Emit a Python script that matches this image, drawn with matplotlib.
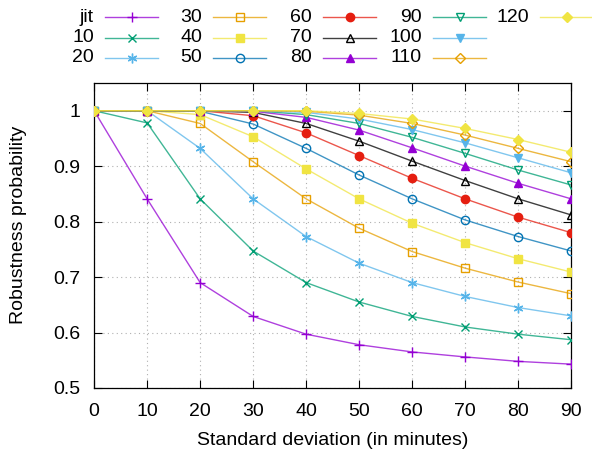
import numpy as np
import matplotlib
matplotlib.use("Agg")
import matplotlib.pyplot as plt
from matplotlib.lines import Line2D

plt.rcParams['font.family'] = ['Liberation Sans', 'DejaVu Sans']
plt.rcParams['font.size'] = 14

# standard deviation (minutes)
std = [0, 10, 20, 30, 40, 50, 60, 70, 80, 90]

labels = ["jit", "10", "20", "30", "40", "50", "60", "70", "80", "90", "100", "110", "120"]

p_jit = [1.0, 0.841, 0.690, 0.629, 0.597, 0.578, 0.565, 0.556, 0.548, 0.543]
p_10 = [1.0, 0.978, 0.841, 0.747, 0.690, 0.655, 0.629, 0.610, 0.597, 0.587]
p_20 = [1.0, 1.0, 0.932, 0.841, 0.773, 0.725, 0.690, 0.665, 0.645, 0.630]
p_30 = [1.0, 1.0, 0.977, 0.908, 0.841, 0.788, 0.746, 0.716, 0.691, 0.670]
p_40 = [1.0, 1.0, 0.993, 0.953, 0.895, 0.841, 0.797, 0.762, 0.733, 0.709]
p_50 = [1.0, 1.0, 0.999, 0.976, 0.932, 0.884, 0.841, 0.803, 0.773, 0.747]
p_60 = [1.0, 1.0, 1.0, 0.991, 0.960, 0.919, 0.878, 0.841, 0.808, 0.780]
p_70 = [1.0, 1.0, 1.0, 0.997, 0.977, 0.945, 0.909, 0.874, 0.841, 0.812]
p_80 = [1.0, 1.0, 1.0, 0.999, 0.988, 0.965, 0.933, 0.900, 0.869, 0.841]
p_90 = [1.0, 1.0, 1.0, 1.0, 0.993, 0.977, 0.952, 0.923, 0.893, 0.866]
p_100 = [1.0, 1.0, 1.0, 1.0, 0.997, 0.985, 0.966, 0.942, 0.915, 0.888]
p_110 = [1.0, 1.0, 1.0, 1.0, 0.999, 0.992, 0.977, 0.956, 0.932, 0.908]
p_120 = [1.0, 1.0, 1.0, 1.0, 1.0, 0.995, 0.985, 0.968, 0.948, 0.925]

series = [p_jit, p_10, p_20, p_30, p_40, p_50, p_60, p_70, p_80, p_90, p_100, p_110, p_120]

# gnuplot default colour cycle and point types
colors = ["#9400d3", "#009e73", "#56b4e9", "#e69f00", "#f0e442", "#0072b2", "#e51e10",
          "#000000", "#9400d3", "#009e73", "#56b4e9", "#e69f00", "#f0e442"]
markers = ["+", "x", (6, 2, 0), "s", "s", "o", "o", "^", "^", "v", "v", "D", "D"]
filled = [True, True, True, False, True, False, True, False, True, False, True, False, True]
msizes = [7, 6, 7, 6, 6, 6, 6, 6, 6, 6, 6, 5, 5]
LINE_ALPHA = 0.75

fig = plt.figure(figsize=(5.92, 4.53), dpi=100)
ax = fig.add_axes([0.159, 0.1435, 0.806, 0.6733])


def marker_kw(i):
    c = colors[i]
    return dict(marker=markers[i], markersize=msizes[i], markeredgecolor=c,
                markeredgewidth=1.0, markerfacecolor=c if filled[i] else "none")


for i, s in enumerate(series):
    ax.plot(std, s, color=colors[i], lw=1.0, alpha=LINE_ALPHA, zorder=3 + i)
    ax.plot(std, s, ls="none", **marker_kw(i), zorder=3 + i)

ax.set_xlim(0, 90)
ax.set_ylim(0.5, 1.05)
ax.set_xticks(std)
ax.set_yticks([0.5, 0.6, 0.7, 0.8, 0.9, 1.0])
ax.set_yticklabels(["0.5", "0.6", "0.7", "0.8", "0.9", "1"])
ax.tick_params(direction="in", length=6, width=0.8, top=True, right=True)
ax.tick_params(axis="x", pad=11)
ax.tick_params(axis="y", pad=10)
ax.grid(True, linestyle=(0, (1, 3)), color="#b0b0b0", lw=0.8)
for sp in ax.spines.values():
    sp.set_linewidth(0.9)
ax.set_xlabel("Standard deviation (in minutes)")
ax.xaxis.set_label_coords(0.5, -0.172)
ax.set_ylabel("Robustness probability")
ax.yaxis.set_label_coords(-0.159, 0.536)
ax.yaxis.label.set_va("center")
ax.xaxis.label.set_va("center")

# gnuplot-like legend: label right-aligned, sample line with marker to the right
W, H = 592.0, 453.0
row_y = [17, 37.5, 58]
col_text = [94, 202, 312, 422, 529]
for i, lab in enumerate(labels):
    c, r = i // 3, i % 3
    xt = col_text[c]
    y = 1 - row_y[r] / H
    fig.text(xt / W, y, lab, ha="right", va="center")
    x0, x1 = (xt + 11) / W, (xt + 64) / W
    fig.add_artist(Line2D([x0, x1], [y, y], transform=fig.transFigure,
                          color=colors[i], lw=1.0, alpha=LINE_ALPHA))
    fig.add_artist(Line2D([(x0 + x1) / 2], [y], transform=fig.transFigure,
                          lw=0, **marker_kw(i)))

fig.savefig("out.png", dpi=100)
